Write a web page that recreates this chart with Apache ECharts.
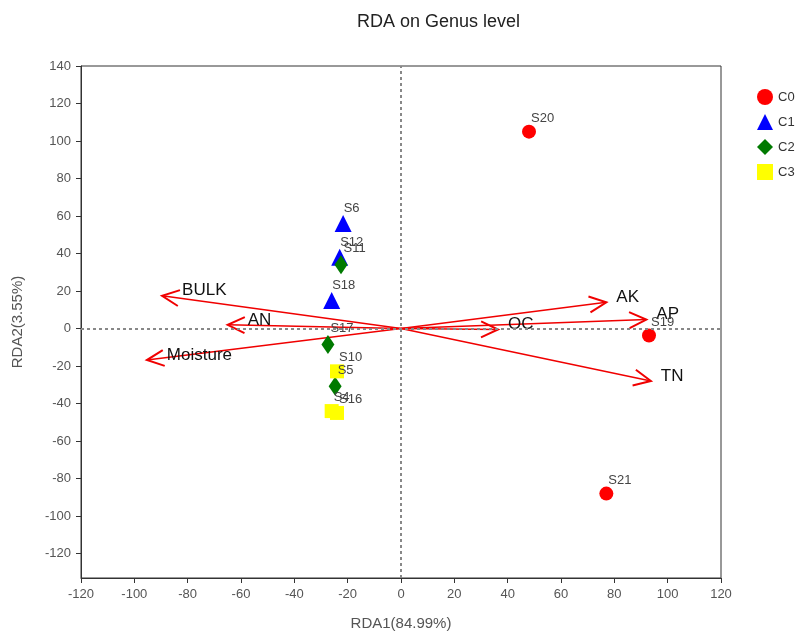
<!DOCTYPE html>
<html>
<head>
<meta charset="utf-8">
<script src="https://cdn.jsdelivr.net/npm/echarts@6/dist/echarts.min.js"></script>
<style>
html, body { margin: 0; padding: 0; background: #fff; }
#chart { width: 809px; height: 636px; }
</style>
</head>
<body>
<div id="chart"></div>
<script>
// sample scores per group
var c0Names = ['S20', 'S21', 'S19'];
var c0X = [48, 77, 93];
var c0Y = [105, -88, -3.7];
var c1Names = ['S6', 'S12', 'S18'];
var c1X = [-21.7, -23, -26];
var c1Y = [56, 38, 15];
var c2Names = ['S11', 'S17', 'S5'];
var c2X = [-22.5, -27.4, -24.7];
var c2Y = [34, -8.5, -30.7];
var c3Names = ['S10', 'S4', 'S16'];
var c3X = [-24, -26, -24];
var c3Y = [-22.8, -44, -45];
// environment factor arrows
var envNames = ['BULK', 'AN', 'Moisture', 'AK', 'AP', 'OC', 'TN'];
var envX = [-89.6, -65, -95.3, 77, 92, 36.4, 93.7];
var envY = [17.5, 2, -16.8, 14, 4.8, -0.5, -28];
var xTicks = [-120, -100, -80, -60, -40, -20, 0, 20, 40, 60, 80, 100, 120];
var yTicks = [-120, -100, -80, -60, -40, -20, 0, 20, 40, 60, 80, 100, 120, 140];

function pts(xs, ys, names) {
    var out = [];
    for (var i = 0; i < xs.length; i++) {
        out.push({ value: [xs[i], ys[i]], name: names[i] });
    }
    return out;
}

var envData = [];
for (var i = 0; i < envNames.length; i++) {
    envData.push([envX[i], envY[i], envNames[i]]);
}

function renderArrow(params, api) {
    var o = api.coord([0, 0]);
    var t = api.coord([api.value(0), api.value(1)]);
    var dx = t[0] - o[0], dy = t[1] - o[1];
    var len = Math.sqrt(dx * dx + dy * dy);
    var ux = dx / len, uy = dy / len;
    var hl = 17, hw = 8;
    var b1 = [t[0] - ux * hl - uy * hw, t[1] - uy * hl + ux * hw];
    var b2 = [t[0] - ux * hl + uy * hw, t[1] - uy * hl - ux * hw];
    var name = envNames[params.dataIndex];
    var tx = t[0] + (dx < 0 ? 20 : 10);
    var ty = t[1] - 5;
    return {
        type: 'group',
        children: [
            { type: 'line', shape: { x1: o[0], y1: o[1], x2: t[0], y2: t[1] },
              style: { stroke: '#f00000', lineWidth: 1.5 } },
            { type: 'polyline', shape: { points: [b1, t, b2] },
              style: { stroke: '#f00000', lineWidth: 2, fill: null } },
            { type: 'text', x: tx, y: ty,
              style: { text: name, fill: '#111', font: '17px "Liberation Sans", Arial',
                       textAlign: 'left', textVerticalAlign: 'middle' } }
        ]
    };
}

var ptLabel = {
    show: true,
    formatter: '{b}',
    position: [9, -13],
    color: '#444',
    fontSize: 13,
    fontFamily: 'Liberation Sans'
};

var myChart = echarts.init(document.getElementById('chart'));
var option = {
    backgroundColor: '#fff',
    animation: false,
    textStyle: { fontFamily: 'Liberation Sans' },
    title: {
        text: 'RDA on Genus level',
        left: 352,
        top: 8,
        textStyle: { fontSize: 18, fontWeight: 'normal', color: '#222' }
    },
    legend: {
        orient: 'vertical',
        left: 752,
        top: 84,
        itemWidth: 16,
        itemHeight: 16,
        itemGap: 9,
        textStyle: { fontSize: 13, color: '#333' },
        data: ['C0', 'C1', 'C2', 'C3']
    },
    grid: {
        left: 81, right: 88, top: 66, bottom: 56,
        show: true, borderColor: '#333', borderWidth: 1
    },
    xAxis: {
        type: 'value',
        min: -120, max: 120, interval: 20,
        name: 'RDA1(84.99%)',
        nameLocation: 'middle',
        nameGap: 38,
        nameTextStyle: { fontSize: 15, color: '#555' },
        axisLine: { onZero: false, lineStyle: { color: '#333' } },
        axisTick: { show: true, length: 5, lineStyle: { color: '#333' } },
        axisLabel: { fontSize: 13, color: '#555', margin: 10 },
        splitLine: { show: false }
    },
    yAxis: {
        type: 'value',
        min: -133, max: 140,
        name: 'RDA2(3.55%)',
        nameLocation: 'middle',
        nameGap: 56,
        nameTextStyle: { fontSize: 15, color: '#555' },
        axisLine: { onZero: false, lineStyle: { color: '#333' } },
        axisTick: { show: true, length: 5, customValues: yTicks, lineStyle: { color: '#333' } },
        axisLabel: { fontSize: 13, color: '#555', margin: 10, customValues: yTicks },
        splitLine: { show: false }
    },
    series: [
        {
            name: 'zero',
            type: 'scatter',
            data: [],
            silent: true,
            markLine: {
                silent: true,
                symbol: 'none',
                label: { show: false },
                lineStyle: { color: '#888', type: [3, 3], width: 2 },
                data: [{ xAxis: 0 }, { yAxis: 0 }]
            }
        },
        {
            name: 'env',
            type: 'custom',
            renderItem: renderArrow,
            data: envData,
            z: 3
        },
        {
            name: 'C0', type: 'scatter', symbol: 'circle', symbolSize: 14,
            itemStyle: { color: '#ff0000', opacity: 1 }, label: ptLabel,
            data: pts(c0X, c0Y, c0Names), z: 4
        },
        {
            name: 'C1', type: 'scatter', symbol: 'triangle', symbolSize: 17,
            itemStyle: { color: '#0000ff', opacity: 1 }, label: ptLabel,
            data: pts(c1X, c1Y, c1Names), z: 4
        },
        {
            name: 'C2', type: 'scatter', symbol: 'diamond', symbolSize: [13, 19],
            itemStyle: { color: '#007a00', opacity: 1 }, label: ptLabel,
            data: pts(c2X, c2Y, c2Names), z: 4
        },
        {
            name: 'C3', type: 'scatter', symbol: 'rect', symbolSize: 14,
            itemStyle: { color: '#ffff00', opacity: 1 }, label: ptLabel,
            data: pts(c3X, c3Y, c3Names), z: 4
        }
    ]
};
myChart.setOption(option);
</script>
</body>
</html>
